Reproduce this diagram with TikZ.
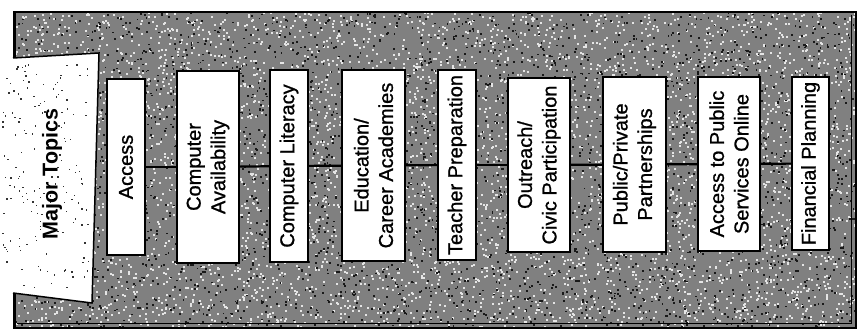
\documentclass[tikz,border=0pt]{standalone}
\usepackage{fontspec}
\setmainfont{Liberation Sans}
\newfontfamily\topicfont[FakeBold=1]{Liberation Sans}
\begin{document}
\begin{tikzpicture}[x=1pt,y=-1pt,
  topic/.style={draw=black, line width=1.5pt, fill=white, rotate=90, inner sep=2pt,
    align=center, font=\topicfont\fontsize{20}{24.5}\selectfont},
  link/.style={line width=2.2pt},
  framecol/.style={fill=black!50},
  lightspeck/.style={fill=white!90!black},
  darkspeck/.style={fill=black!90}]
\useasboundingbox (0,0) rectangle (863,334);
\pgfmathsetseed{12}
% textured background
\fill[framecol] (14.5,12) rectangle (856,328);
\begin{scope}
  \clip (14.5,12) rectangle (856,328);
  \foreach \i in {1,...,5200}{
    \pgfmathsetmacro\rx{14+843*rnd}
    \pgfmathsetmacro\ry{11+318*rnd}
    \fill[lightspeck] (\rx,\ry) rectangle ++(2,2);
  }
  \foreach \i in {1,...,3500}{
    \pgfmathsetmacro\rx{14+843*rnd}
    \pgfmathsetmacro\ry{11+318*rnd}
    \fill[darkspeck] (\rx,\ry) rectangle ++(1.8,1.8);
  }
\end{scope}
\draw[line width=2.5pt] (14.5,12) rectangle (856,328);
\draw[line width=0.8pt] (851.5,15) -- (851.5,323) -- (17,323);
% banner
\fill[white] (0,58.5) -- (99,53) -- (92,303) -- (0,291.5) -- cycle;
\foreach \i in {1,...,170}{
  \pgfmathsetmacro\rx{2+86*rnd}
  \pgfmathsetmacro\ry{62+228*rnd}
  \fill[black!80] (\rx,\ry) rectangle ++(1.4,1.4);
}
\draw[line width=1.5pt] (13,58) -- (99,53) -- (92,303) -- (13,293);
\node[rotate=90, font=\bfseries\fontsize{21.5}{25}\selectfont] (major) at (52,174) {Major Topics};
% topic boxes
\node[topic, minimum width=176pt, minimum height=38pt] (access) at (126,167) {Access};
\node[topic, minimum width=192pt, minimum height=62pt] (avail) at (208,167) {Computer\\Availability};
\node[topic, minimum width=192pt, minimum height=38pt] (literacy) at (289,166) {Computer Literacy};
\node[topic, minimum width=191pt, minimum height=63pt] (edu) at (373.5,165.5) {Education/\\Career Academies};
\node[topic, minimum width=190pt, minimum height=38pt] (teacher) at (457,165) {Teacher Preparation};
\node[topic, minimum width=174pt, minimum height=62pt] (outreach) at (539,165) {Outreach/\\Civic Participation};
\node[topic, minimum width=175pt, minimum height=63pt] (public) at (634.5,164.5) {Public/Private\\Partnerships};
\node[topic, minimum width=174pt, minimum height=62pt] (online) at (729,164) {Access to Public\\Services Online};
\node[topic, minimum width=173pt, minimum height=37pt] (finance) at (810.5,163.5) {Financial Planning};
% connectors
\draw[link] (access) -- (avail);
\draw[link] (avail) -- (literacy);
\draw[link] (literacy) -- (edu);
\draw[link] (edu) -- (teacher);
\draw[link] (teacher) -- (outreach);
\draw[link] (outreach) -- (public);
\draw[link] (public) -- (online);
\draw[link] (online) -- (finance);
\end{tikzpicture}
\end{document}
